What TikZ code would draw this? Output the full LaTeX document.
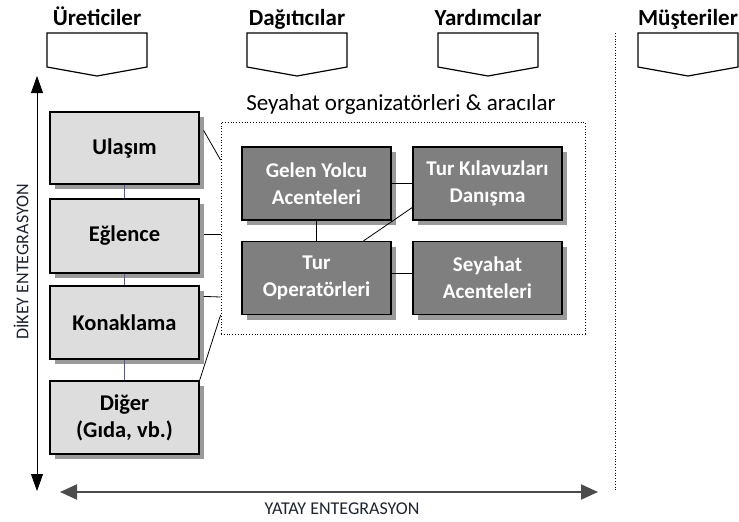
\documentclass[tikz,border=0pt]{standalone}
\usepackage{fontspec}
\setmainfont{Carlito}
\definecolor{boxlight}{HTML}{DDDDDD}
\definecolor{boxdark}{HTML}{7F7F7F}
\definecolor{shadowgray}{HTML}{9A9A9A}
\definecolor{linkblue}{HTML}{5454A8}
\definecolor{axisink}{HTML}{1E2430}
\usetikzlibrary{arrows.meta,positioning,calc,shadows}

\tikzset{
  sector/.style={draw=black,line width=1.2pt,fill=boxlight,minimum width=149pt,
    font=\fontsize{22.5}{27}\selectfont\bfseries,align=center,
    drop shadow={shadow xshift=5pt,shadow yshift=-5pt,fill=shadowgray,opacity=1}},
  agent/.style={draw=black,line width=1.2pt,fill=boxdark,text=white,minimum width=149pt,
    minimum height=73pt,font=\fontsize{21}{27}\selectfont\bfseries,align=center,
    drop shadow={shadow xshift=5pt,shadow yshift=-5pt,fill=shadowgray,opacity=1}},
  stagehead/.style={anchor=base,font=\fontsize{23}{26}\selectfont\bfseries},
  axislabel/.style={text=axisink,font=\fontsize{18}{20}\selectfont},
}

\begin{document}
\begin{tikzpicture}[x=1pt,y=-1pt]
    \useasboundingbox (0,0) rectangle (739,522);

    % Stage headers with chevrons
    \foreach \cx/\lbl/\nm in {97/Üreticiler/uret,297/Dağıtıcılar/dagit,
        488/Yardımcılar/yardim,688/Müşteriler/muster}{
      \node[stagehead] (\nm) at (\cx,25) {\lbl};
      \draw[line width=1.2pt,fill=white] (\cx-50,33) -- (\cx+50,33) -- (\cx+50,67)
        -- (\cx,76) -- (\cx-50,67) -- cycle;
    }

    % Separator before customers
    \coordinate (septop) at (615,33);
    \coordinate (sepbot) at (615,492);
    \draw[dotted,thick] (septop) -- (sepbot);

    % Producers column
    \node[sector,minimum height=72pt] (ulasim) at (124.5,148) {Ulaşım};
    \node[sector,minimum height=74pt] (eglence) at (124.5,236) {Eğlence};
    \node[sector,minimum height=73pt] (konaklama) at (124.5,322.5) {Konaklama};
    \node[sector,minimum height=73pt] (diger) at (124.5,417.5) {Diğer\\(Gıda, vb.)};
    \draw[linkblue,thick] (ulasim) -- (eglence);
    \draw[linkblue,thick] (eglence) -- (konaklama);
    \draw[linkblue,thick] (konaklama) -- (diger);

    % Intermediaries group
    \node[draw,dotted,thick,minimum width=364pt,minimum height=212pt] (org) at (403,228) {};
    \node[font=\fontsize{23}{26}\selectfont] (orglabel) at (401,104)
      {Seyahat organizatörleri \& aracılar};
    \node[agent] (gelen) at (316.5,183.5) {Gelen Yolcu\\Acenteleri};
    \node[agent] (kilavuz) at (487.5,183.5) {Tur Kılavuzları\\Danışma};
    \node[agent] (turop) at (316.5,278) {Tur\\Operatörleri};
    \node[agent] (seyahat) at (487.5,278) {Seyahat\\Acenteleri};
    \draw[thick] (gelen) -- (kilavuz);
    \draw[thick] (gelen) -- (turop);
    \draw[thick] ([yshift=-61pt]kilavuz.north west) -- ([xshift=47pt]turop.north);
    \draw[thick] ([yshift=5pt]turop.east) -- ([yshift=5pt]seyahat.west);

    % Links from producers to the group
    \draw[thick] ([xshift=4pt,yshift=-19pt]ulasim.north east) -- (org.west |- 0,160);
    \draw[thick] ([xshift=4pt,yshift=2pt]eglence.east) -- (org.west |- 0,234);
    \draw[thick] ([xshift=4pt,yshift=-11pt]konaklama.north east) -- (org.west |- 0,297);
    \draw[thick] (diger.north east) -- (org.west |- 0,315);

    % Integration axes
    \coordinate (vtop) at (37,76);
    \coordinate (vbot) at (37,491);
    \draw[{Triangle[length=17pt,width=12pt]}-{Triangle[length=17pt,width=12pt]},thick] (vtop) -- (vbot);
    \node[axislabel,rotate=90] (dikey) at (21,262) {DİKEY ENTEGRASYON};
    \coordinate (hleft) at (60,492);
    \coordinate (hright) at (598,492);
    \draw[{Triangle[length=17pt,width=15pt]}-{Triangle[length=17pt,width=15pt]},line width=2pt,black!70] (hleft) -- (hright);
    \node[axislabel] (yatay) at (342,509) {YATAY ENTEGRASYON};
  \end{tikzpicture}
\end{document}
